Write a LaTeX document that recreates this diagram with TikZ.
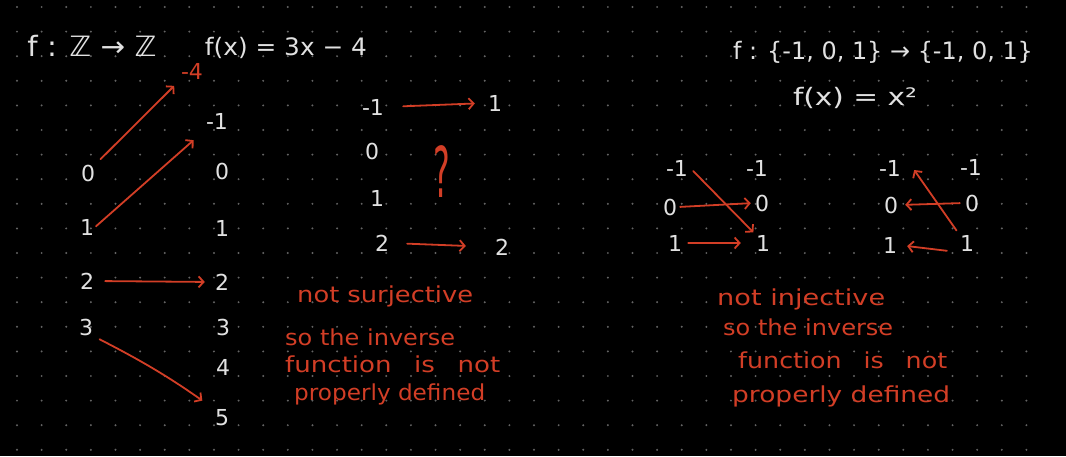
\documentclass[tikz,border=0pt]{standalone}
\usepackage{fontspec}
\setmainfont{DejaVu Sans}
\usetikzlibrary{arrows.meta}
\definecolor{bgc}{RGB}{0,0,0}
\definecolor{dotc}{RGB}{100,100,100}
\definecolor{ink}{RGB}{225,225,225}
\definecolor{pen}{RGB}{210,62,38}
\newcommand\fitw[2]{\resizebox{#1}{\height}{#2}}
\begin{document}
\begin{tikzpicture}[x=1pt,y=-1pt,
  num/.style={text=ink, font=\fontsize{22}{22}\selectfont, inner sep=1pt},
  rnum/.style={num, text=pen},
  title/.style={text=ink, inner sep=0pt, anchor=base},
  note/.style={text=pen, font=\fontsize{22}{22}\selectfont, anchor=base west, inner sep=0pt},
  arr/.style={draw=pen, line width=1.8pt, line cap=round,
    -{Straight Barb[length=5pt,width=11pt]}}]
\useasboundingbox (0,0) rectangle (1066,456);
\fill[bgc] (0,0) rectangle (1066,456);
% dotted grid
\foreach \i in {0,...,41}{
  \foreach \j in {0,...,18}{
    \fill[dotc] ({17+24.62*\i},{7+24.6*\j}) circle (1.1);
  }
}
% ---------- left: f : Z -> Z ----------
\node[title, font=\fontsize{28}{28}\selectfont] (t1) at (92,56) {\fitw{129pt}{f : ℤ → ℤ}};
\node[title, font=\fontsize{24}{24}\selectfont] (t2) at (286,55) {\fitw{162pt}{f(x) = 3x − 4}};
\node[num] (d0) at (88,173) {0};
\node[num] (d1) at (87,227) {1};
\node[num] (d2) at (87,281) {2};
\node[num] (d3) at (86,327) {3};
\node[rnum] (cm4) at (192,71) {-4};
\node[num] (cm1) at (217,121) {-1};
\node[num] (c0) at (222,171) {0};
\node[num] (c1) at (222,228) {1};
\node[num] (c2) at (222,282) {2};
\node[num] (c3) at (223,327) {3};
\node[num] (c4) at (223,367) {4};
\node[num] (c5) at (222,418) {5};
\draw[arr, shorten <=6pt, shorten >=8pt] (d0.north east) -- (cm4.south west);
\draw[arr, shorten <=1pt, shorten >=15pt] (d1.east) -- (cm1.south west);
\draw[arr, shorten <=10pt, shorten >=9pt] (d2.east) -- (c2.west);
\draw[arr, shorten <=6pt, shorten >=14pt] (d3.south east) to[bend left=4] (c5.north west);
% ---------- middle ----------
\node[num] (m1l) at (373,107) {-1};
\node[num] (m1r) at (495,103) {1};
\node[num] (m0) at (372,151) {0};
\node[num] (m1) at (377,198) {1};
\node[num] (m2l) at (382,243) {2};
\node[num] (m2r) at (502,247) {2};
\node[text=pen, inner sep=0pt] (mq) at (442,172) {\scalebox{0.45}[1]{\fontsize{70}{70}\selectfont ?}};
\draw[arr, shorten <=18pt, shorten >=12pt] (m1l.east) -- (m1r.west);
\draw[arr, shorten <=17pt, shorten >=28pt] (m2l.east) -- (m2r.west);
\node[note] (n1) at (297,302) {\fitw{176pt}{not surjective}};
\node[note] (n2) at (285,345) {\fitw{170pt}{so the inverse}};
\node[note] (n3) at (285,372) {\fitw{215pt}{function\hspace{12pt} is\hspace{12pt} not}};
\node[note] (n4) at (294,400) {\fitw{191pt}{properly defined}};
% ---------- right: f : {-1,0,1} -> {-1,0,1} ----------
\node[title, font=\fontsize{24}{24}\selectfont] (t3) at (883,59) {\fitw{300pt}{f : \{-1, 0, 1\} → \{-1, 0, 1\}}};
\node[title, font=\fontsize{24}{24}\selectfont] (t4) at (855,105) {\fitw{124pt}{f(x) = x²}};
\node[num] (pm1) at (677,168) {-1};
\node[num] (p0) at (670,207) {0};
\node[num] (p1) at (675,243) {1};
\node[num] (qm1) at (757,168) {-1};
\node[num] (q0) at (762,203) {0};
\node[num] (q1) at (763,243) {1};
\draw[arr, shorten <=2pt, shorten >=3pt] (p0.east) -- (q0.west);
\draw[arr, shorten <=5pt, shorten >=14pt] (p1.east) -- (q1.west);
\draw[arr, shorten >=2pt] ([xshift=4pt,yshift=-3pt]pm1.east) -- (q1.north west);
\node[num] (rm1) at (890,168) {-1};
\node[num] (r0) at (891,205) {0};
\node[num] (r1) at (890,245) {1};
\node[num] (sm1) at (971,167) {-1};
\node[num] (s0) at (972,203) {0};
\node[num] (s1) at (967,243) {1};
\draw[arr, shorten <=4pt, shorten >=6pt] (s0.west) -- (r0.east);
\draw[arr, shorten <=12pt, shorten >=9pt] (s1.south west) -- (r1.east);
\draw[arr, shorten <=4pt] (s1.north west) -- ([xshift=12pt,yshift=-2pt]rm1.east);
\node[note] (k1) at (717,305) {\fitw{168pt}{not injective}};
\node[note] (k2) at (723,335) {\fitw{170pt}{so the inverse}};
\node[note] (k3) at (738,368) {\fitw{209pt}{function\hspace{12pt} is\hspace{12pt} not}};
\node[note] (k4) at (732,402) {\fitw{218pt}{properly defined}};
\end{tikzpicture}
\end{document}
